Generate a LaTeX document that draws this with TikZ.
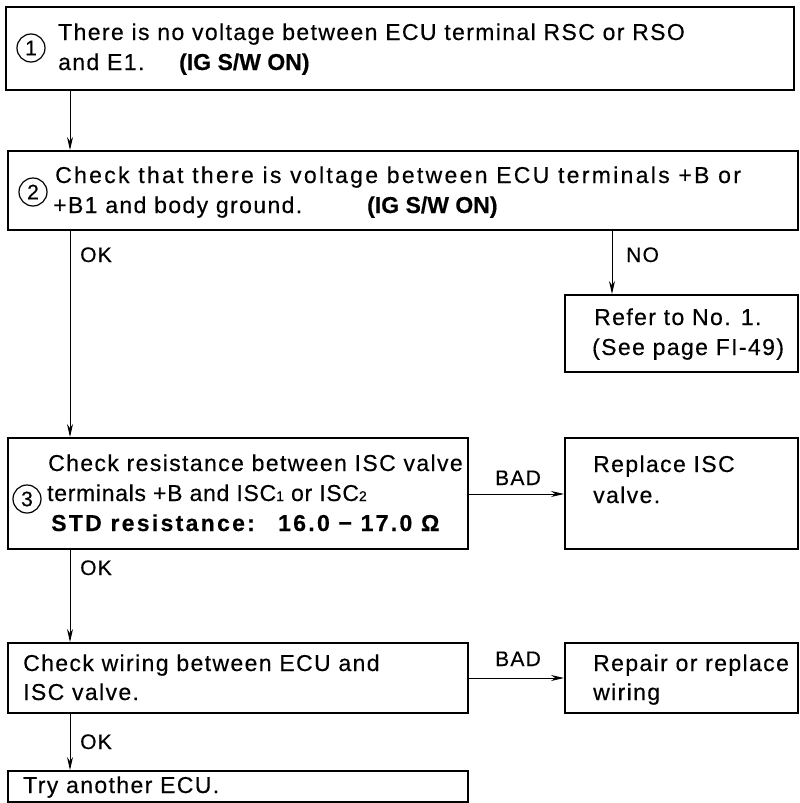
\documentclass[tikz,border=0pt]{standalone}
\usepackage{fontspec}
\setmainfont{Liberation Sans}[LetterSpace=6,FakeBold=0.4]
\newfontfamily\tightfont{Liberation Sans}[FakeBold=0.4]
\newfontfamily\widefont{Liberation Sans}[LetterSpace=10,FakeBold=0.4]
\newfontfamily\narrowfont{Liberation Sans}[LetterSpace=3,FakeBold=0.4]
\usetikzlibrary{arrows.meta}
\newcommand{\igon}{{\tightfont\bfseries (IG S/W ON)}}
\newcommand{\subd}[1]{{\fontsize{14}{14}\selectfont #1}}
\begin{document}
\begin{tikzpicture}[x=1pt,y=-1pt,
 box/.style={draw, line width=2.3pt, inner sep=0, anchor=north west},
 txt/.style={anchor=base west, inner sep=0, font=\fontsize{23}{27}\selectfont},
 lbl/.style={anchor=base west, inner sep=0, font=\fontsize{21}{24}\selectfont},
 num/.style={circle, draw, line width=1.2pt, inner sep=0, minimum size=28pt, font=\tightfont\fontsize{21}{21}\selectfont},
 conn/.style={line width=1pt},
 arr/.style={conn, -{Stealth[length=13pt,width=6pt]}}
]
\useasboundingbox (0,0) rectangle (800,803);
% box 1
\node[box, minimum width=788pt, minimum height=83pt] (b1) at (5,6) {};
\node[num] (n1) at (31,48) {1};
\node[txt] (t1a) at (58,40) {There is no voltage between ECU terminal RSC or RSO};
\node[txt] (t1b) at (58,70) {\makebox[121pt][l]{and E1.}\igon};
% box 2
\node[box, minimum width=790pt, minimum height=79pt] (b2) at (7,150) {};
\node[num] (n2) at (33,192) {2};
\node[txt] (t2a) at (55,183) {\widefont Check that there is voltage between ECU terminals +B or};
\node[txt] (t2b) at (53,213) {\makebox[314pt][l]{+B1 and body ground.}\igon};
% refer box
\node[box, minimum width=233pt, minimum height=77pt] (bn) at (564,294) {};
\node[txt] (tna) at (594,325) {Refer to No. 1.};
\node[txt] (tnb) at (592,355) {(See page FI-49)};
% box 3
\node[box, minimum width=460pt, minimum height=111pt] (b3) at (7,437) {};
\node[num] (n3) at (27,499) {3};
\node[txt] (t3a) at (48,471) {Check resistance between ISC valve};
\node[txt] (t3b) at (47,501) {\narrowfont terminals +B and ISC\subd{1} or ISC\subd{2}};
\node[txt] (t3c) at (51,531) {\widefont\bfseries\makebox[227pt][l]{STD resistance:}16.0 − 17.0 Ω};
% replace box
\node[box, minimum width=233pt, minimum height=111pt] (br) at (564,437) {};
\node[txt] (tra) at (593,472) {Replace ISC};
\node[txt] (trb) at (593,503) {valve.};
% box 4
\node[box, minimum width=460pt, minimum height=70pt] (b4) at (7,642) {};
\node[txt] (t4a) at (23,671) {Check wiring between ECU and};
\node[txt] (t4b) at (23,700) {ISC valve.};
% repair box
\node[box, minimum width=233pt, minimum height=70pt] (bw) at (564,642) {};
\node[txt] (twa) at (593,671) {Repair or replace};
\node[txt] (twb) at (593,700) {wiring};
% box 5
\node[box, minimum width=460pt, minimum height=31pt] (b5) at (7,770) {};
\node[txt] (t5) at (23,793) {Try another ECU.};
% connectors
\draw[arr] (70,0 |- b1.south) -- (70,0 |- b2.north);
\draw[arr] (70,0 |- b2.south) -- (70,0 |- b3.north);
\draw[arr] (612,0 |- b2.south) -- (612,0 |- bn.north);
\draw[arr] (b3.east |- 0,494) -- (br.west |- 0,494);
\draw[arr] (70,0 |- b3.south) -- (70,0 |- b4.north);
\draw[arr] (b4.east |- 0,678) -- (bw.west |- 0,678);
\draw[arr] (70,0 |- b4.south) -- (70,0 |- b5.north);
% labels
\node[lbl] (ok1) at (80,262) {OK};
\node[lbl] (no1) at (626,262) {NO};
\node[lbl] (bad1) at (495,485) {BAD};
\node[lbl] (ok2) at (80,575) {OK};
\node[lbl] (bad2) at (495,666) {BAD};
\node[lbl] (ok3) at (80,749) {OK};
\end{tikzpicture}
\end{document}
